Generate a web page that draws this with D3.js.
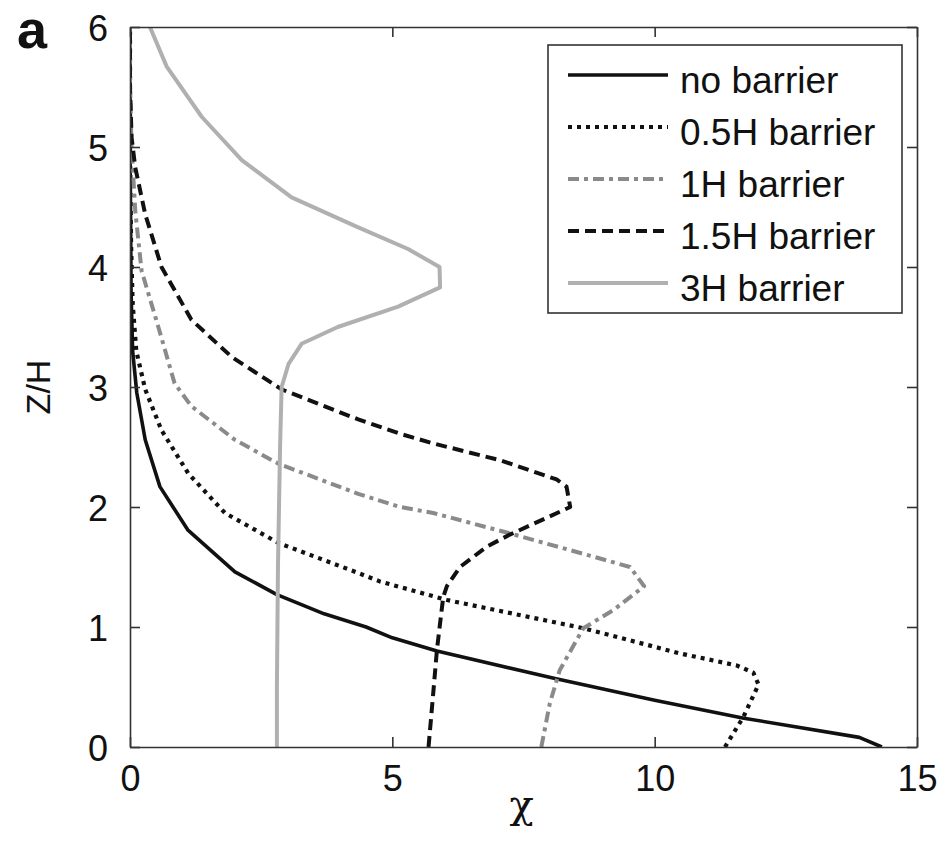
<!DOCTYPE html>
<html>
<head>
<meta charset="utf-8">
<script src="https://cdn.jsdelivr.net/npm/d3@7"></script>
<style>
  html, body { margin: 0; padding: 0; background: #fff; }
  svg { display: block; font-family: "Liberation Sans", Arial, sans-serif; }
</style>
</head>
<body>
<svg id="chart" width="944" height="842"></svg>
<script>
// Concentration profiles χ against normalised height Z/H
const seriesNames = ["no barrier", "0.5H barrier", "1H barrier", "1.5H barrier", "3H barrier"];

const noBarrierChi = [14.33, 13.9, 11.7, 10.0, 8.1, 5.85, 5.0, 4.5, 3.7, 2.8, 2.0, 1.1, 0.57, 0.29, 0.13, 0.05, 0.02, 0.01, 0.0, 0.0];
const noBarrierZ   = [0.0, 0.08, 0.24, 0.39, 0.57, 0.8, 0.91, 1.0, 1.11, 1.27, 1.46, 1.81, 2.17, 2.56, 2.95, 3.3, 3.8, 4.5, 5.0, 6.0];

const halfHChi = [11.34, 11.69, 11.98, 11.88, 11.56, 10.48, 8.64, 6.04, 4.76, 4.35, 2.83, 1.81, 1.11, 0.6, 0.29, 0.12, 0.05, 0.02, 0.0, 0.0];
const halfHZ   = [0.0, 0.25, 0.52, 0.62, 0.68, 0.78, 0.99, 1.225, 1.38, 1.45, 1.7, 1.95, 2.28, 2.64, 2.98, 3.3, 3.7, 4.2, 5.0, 6.0];

const oneHChi = [7.84, 8.0, 8.19, 8.64, 9.21, 9.8, 9.53, 8.64, 7.24, 5.78, 5.15, 4.35, 2.83, 2.0, 1.17, 0.85, 0.54, 0.22, 0.1, 0.03, 0.0, 0.0];
const oneHZ   = [0.0, 0.36, 0.64, 0.99, 1.14, 1.34, 1.5, 1.61, 1.78, 1.95, 2.0, 2.11, 2.36, 2.56, 2.84, 3.03, 3.5, 3.97, 4.47, 5.0, 5.5, 6.0];

const oneHalfHChi = [5.69, 5.78, 5.85, 5.97, 6.04, 6.29, 6.8, 7.24, 8.39, 8.32, 8.13, 7.05, 5.78, 5.15, 4.35, 2.89, 1.94, 1.17, 0.6, 0.29, 0.1, 0.03, 0.0, 0.0];
const oneHalfHZ   = [0.0, 0.45, 0.81, 1.25, 1.34, 1.5, 1.67, 1.77, 2.0, 2.17, 2.23, 2.39, 2.53, 2.61, 2.73, 2.98, 3.25, 3.56, 4.0, 4.44, 4.83, 5.08, 5.5, 6.0];

const threeHChi = [2.8, 2.8, 2.81, 2.82, 2.84, 2.86, 2.89, 3.02, 3.27, 3.96, 5.11, 5.91, 5.9, 5.3, 4.35, 3.08, 2.13, 1.37, 0.7, 0.38];
const threeHZ   = [0.0, 0.5, 1.0, 1.5, 2.0, 2.5, 3.0, 3.19, 3.36, 3.5, 3.67, 3.83, 4.0, 4.15, 4.33, 4.58, 4.89, 5.25, 5.67, 6.0];

const xTicks = [0, 5, 10, 15];
const yTicks = [0, 1, 2, 3, 4, 5, 6];

const styles = [
  { color: "#111111", width: 3.6, dash: null },
  { color: "#111111", width: 4.2, dash: "4,5" },
  { color: "#8a8a8a", width: 4,   dash: "11,5,4,5" },
  { color: "#111111", width: 4,   dash: "11,6" },
  { color: "#b0b0b0", width: 4,   dash: null }
];

const series = [
  { name: seriesNames[0], chi: noBarrierChi, z: noBarrierZ },
  { name: seriesNames[1], chi: halfHChi, z: halfHZ },
  { name: seriesNames[2], chi: oneHChi, z: oneHZ },
  { name: seriesNames[3], chi: oneHalfHChi, z: oneHalfHZ },
  { name: seriesNames[4], chi: threeHChi, z: threeHZ }
];

const svg = d3.select("#chart");
const boxLeft = 130, boxRight = 917, boxTop = 27, boxBottom = 747;

const x = d3.scaleLinear().domain([0, 15]).range([boxLeft, boxRight]);
const y = d3.scaleLinear().domain([0, 6]).range([boxBottom, boxTop]);

// clip the curves to the axes box
svg.append("defs").append("clipPath").attr("id", "plotClip")
  .append("rect").attr("x", boxLeft).attr("y", boxTop)
  .attr("width", boxRight - boxLeft).attr("height", boxBottom - boxTop);

const line = d3.line().x(d => x(d[0])).y(d => y(d[1]));

const plot = svg.append("g").attr("clip-path", "url(#plotClip)");
series.forEach((s, i) => {
  const pts = s.chi.map((c, k) => [c, s.z[k]]);
  plot.append("path")
    .datum(pts)
    .attr("d", line)
    .attr("fill", "none")
    .attr("stroke", styles[i].color)
    .attr("stroke-width", styles[i].width)
    .attr("stroke-dasharray", styles[i].dash)
    .attr("stroke-linejoin", "round");
});

// axes with inward ticks on all four sides
const tickLen = 10;
const fmt = d3.format("d");
const axisStyle = g => {
  g.select(".domain").attr("stroke", "#333").attr("stroke-width", 1.6);
  g.selectAll(".tick line").attr("stroke", "#333").attr("stroke-width", 1.6);
};

svg.append("g").attr("transform", `translate(0,${boxBottom})`)
  .call(d3.axisBottom(x).tickValues(xTicks).tickFormat(fmt).tickSize(-tickLen).tickSizeOuter(0).tickPadding(18))
  .call(axisStyle)
  .call(g => g.selectAll("text").attr("font-size", 36).attr("fill", "#111")
    .attr("font-family", "Liberation Sans, Arial, sans-serif").attr("dy", "0.71em"));

svg.append("g").attr("transform", `translate(0,${boxTop})`)
  .call(d3.axisTop(x).tickValues(xTicks).tickSize(-tickLen).tickSizeOuter(0).tickFormat(""))
  .call(axisStyle);

svg.append("g").attr("transform", `translate(${boxLeft},0)`)
  .call(d3.axisLeft(y).tickValues(yTicks).tickFormat(fmt).tickSize(-tickLen).tickSizeOuter(0).tickPadding(22))
  .call(axisStyle)
  .call(g => g.selectAll("text").attr("font-size", 36).attr("fill", "#111")
    .attr("font-family", "Liberation Sans, Arial, sans-serif").attr("dy", "0.38em"));

svg.append("g").attr("transform", `translate(${boxRight},0)`)
  .call(d3.axisRight(y).tickValues(yTicks).tickSize(-tickLen).tickSizeOuter(0).tickFormat(""))
  .call(axisStyle);

// axis titles and panel letter
svg.append("text").attr("x", x(7.5) - 2).attr("y", 818)
  .attr("text-anchor", "middle").attr("font-size", 40).attr("fill", "#111")
  .attr("font-family", "DejaVu Serif, serif").text("χ");

svg.append("text").attr("transform", `translate(50,${y(3)}) rotate(-90)`)
  .attr("text-anchor", "middle").attr("font-size", 34).attr("fill", "#111").text("Z/H");

svg.append("text").attr("x", 17).attr("y", 48)
  .attr("font-size", 54).attr("font-weight", "bold").attr("fill", "#111").text("a");

// legend
const lg = svg.append("g");
lg.append("rect").attr("x", 548).attr("y", 45).attr("width", 354).attr("height", 268)
  .attr("fill", "#fff").attr("stroke", "#333").attr("stroke-width", 1.6);

series.forEach((s, i) => {
  const ly = 75 + i * 52;
  lg.append("line").attr("x1", 568).attr("x2", 668).attr("y1", ly).attr("y2", ly)
    .attr("stroke", styles[i].color).attr("stroke-width", styles[i].width)
    .attr("stroke-dasharray", styles[i].dash);
  lg.append("text").attr("x", 680).attr("y", ly + 18)
    .attr("font-size", 37).attr("fill", "#111").text(s.name);
});
</script>
</body>
</html>
